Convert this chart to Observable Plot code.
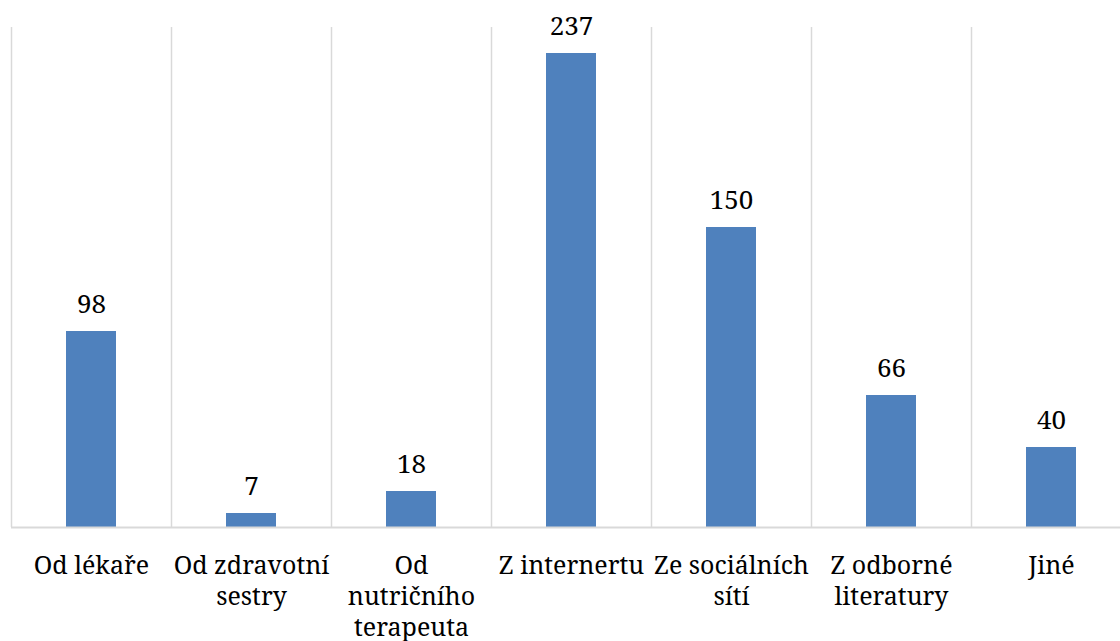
<!DOCTYPE html>
<html>
<head>
<meta charset="utf-8">
<script src="https://cdn.jsdelivr.net/npm/d3@7"></script>
<script src="https://cdn.jsdelivr.net/npm/@observablehq/plot@0.6"></script>
<style>
html, body { margin: 0; padding: 0; background: #fff; overflow: hidden; }
#chart svg { display: block; }
</style>
</head>
<body>
<div id="chart"></div>
<script>
const categories = ["Od lékaře", "Od zdravotní sestry", "Od nutričního terapeuta", "Z internertu", "Ze sociálních sítí", "Z odborné literatury", "Jiné"];
const tickLabels = ["Od lékaře", "Od zdravotní\nsestry", "Od\nnutričního\nterapeuta", "Z internertu", "Ze sociálních\nsítí", "Z odborné\nliteratury", "Jiné"];
const values = [98, 7, 18, 237, 150, 66, 40];

const data = categories.map((c, i) => ({category: c, value: values[i], label: tickLabels[i]}));
const font = "Noto Serif";

const chart = Plot.plot({
  width: 1120,
  height: 641,
  marginTop: 27,
  marginBottom: 114,
  marginLeft: 11,
  marginRight: 0,
  style: {background: "#fff", overflow: "hidden"},
  x: {domain: categories, range: [11, 1131], paddingInner: 0.6875, paddingOuter: 0.34375, axis: null},
  y: {domain: [0, 250], axis: null},
  marks: [
    Plot.ruleX(data, {x: "category", dx: -80, stroke: "#d9d9d9", strokeWidth: 1.5, y1: 0, y2: 250}),
    Plot.barY(data, {x: "category", y: "value", fill: "#4F81BD"}),
    Plot.ruleY([0], {stroke: "#d9d9d9", strokeWidth: 2}),
    Plot.text(data, {x: "category", y: "value", text: d => String(d.value), lineAnchor: "bottom", dy: -19, fontSize: 26, fontFamily: font, fill: "#000"}),
    Plot.text(data, {x: "category", y: 0, text: "label", lineAnchor: "top", dy: 24, fontSize: 25, fontFamily: font, lineHeight: 1.25, fill: "#000"})
  ]
});
document.getElementById("chart").appendChild(chart);
</script>
</body>
</html>
